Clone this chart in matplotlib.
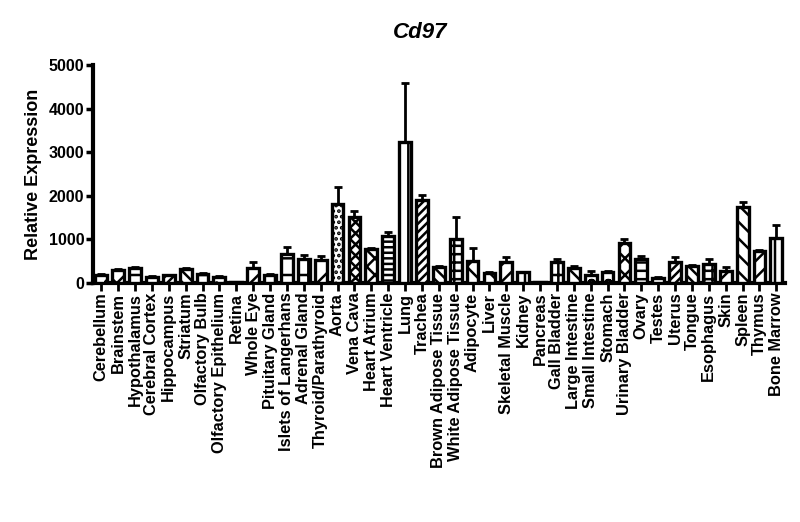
import numpy as np
import matplotlib
matplotlib.use('Agg')
import matplotlib.pyplot as plt

plt.rcParams['font.family'] = ['Liberation Sans', 'DejaVu Sans']
plt.rcParams['font.weight'] = 'bold'
plt.rcParams['hatch.linewidth'] = 1.8

# tissues and read-off values
tissues = ['Cerebellum', 'Brainstem', 'Hypothalamus', 'Cerebral Cortex', 'Hippocampus',
           'Striatum', 'Olfactory Bulb', 'Olfactory Epithelium', 'Retina', 'Whole Eye',
           'Pituitary Gland', 'Islets of Langerhans', 'Adrenal Gland', 'Thyroid/Parathyroid',
           'Aorta', 'Vena Cava', 'Heart Atrium', 'Heart Ventricle', 'Lung', 'Trachea',
           'Brown Adipose Tissue', 'White Adipose Tissue', 'Adipocyte', 'Liver',
           'Skeletal Muscle', 'Kidney', 'Pancreas', 'Gall Bladder', 'Large Intestine',
           'Small Intestine', 'Stomach', 'Urinary Bladder', 'Ovary', 'Testes', 'Uterus',
           'Tongue', 'Esophagus', 'Skin', 'Spleen', 'Thymus', 'Bone Marrow']
expression = [180, 300, 340, 140, 180, 330, 200, 140, 30, 350,
              190, 660, 550, 530, 1800, 1510, 780, 1080, 3240, 1900,
              370, 1010, 510, 230, 470, 240, 30, 490, 350, 180,
              260, 910, 550, 110, 490, 390, 430, 275, 1740, 740, 1030]
sem = [20, 20, 20, 20, 10, 10, 30, 10, 0, 130,
       10, 170, 80, 90, 400, 130, 20, 80, 1350, 120,
       10, 500, 280, 10, 130, 10, 0, 70, 30, 100,
       20, 100, 60, 20, 100, 10, 130, 90, 120, 10, 310]
hatches = ['o', 'x', '-', '+', '////', '\\\\\\', '+', '..', '', '//',
           '|', '-', '+', 'x', '...', 'xxx', 'xx', '---', '|', '////',
           '\\\\\\', '++', 'x', '\\\\', '//', '|', '', '+', 'x', 'o',
           'o', 'xx', '--', '-', '////', '\\\\\\', '++', 'x', '\\\\', '//', '|']

x = np.arange(len(tissues))

fig = plt.figure(figsize=(8, 5.22), dpi=100)
ax = fig.add_axes([0.116, 0.458, 0.865, 0.4175])

bars = ax.bar(x, expression, width=0.7, color='white', edgecolor='black', linewidth=2.4, zorder=3)
for b, h in zip(bars, hatches):
    b.set_hatch(h)

ax.errorbar(x, expression, yerr=[np.zeros(len(sem)), sem], fmt='none', ecolor='black',
            elinewidth=2, capsize=3, capthick=2, zorder=2)

ax.set_xlim(-0.5, 40.5)
ax.set_ylim(0, 5000)
ax.set_yticks([0, 1000, 2000, 3000, 4000, 5000])
ax.set_xticks(x)
ax.set_xticklabels(tissues, rotation=90, fontsize=11.8, fontweight='bold')
ax.tick_params(axis='y', labelsize=11.5, width=2.5, length=5, pad=1)
ax.tick_params(axis='x', width=2, length=6, pad=1)
for lbl in ax.get_yticklabels():
    lbl.set_fontweight('bold')

for s in ['top', 'right']:
    ax.spines[s].set_visible(False)
for s in ['left', 'bottom']:
    ax.spines[s].set_linewidth(3)

ax.set_ylabel('Relative Expression', fontsize=13, fontweight='bold', labelpad=5)
fig.text(0.525, 0.937, 'Cd97', fontsize=16, fontweight='bold', style='italic', ha='center', va='center')

fig.savefig('out.png', dpi=100)
